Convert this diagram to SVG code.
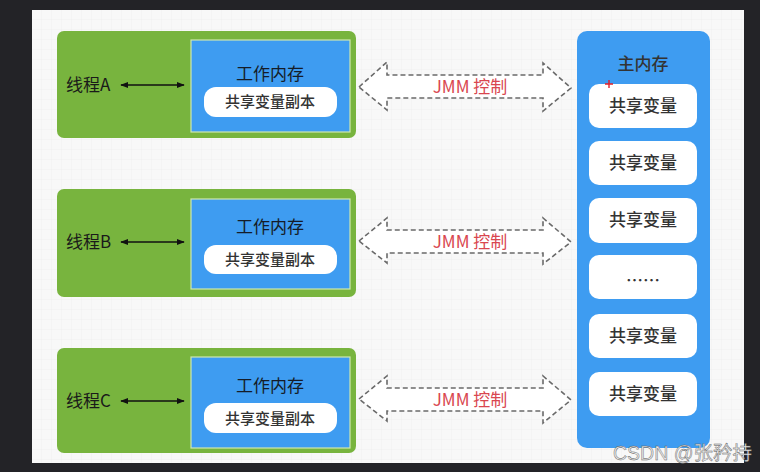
<svg xmlns="http://www.w3.org/2000/svg" width="760" height="472" viewBox="0 0 760 472">
  <defs>
    <pattern id="grid" width="10" height="10" patternUnits="userSpaceOnUse" x="32" y="10">
      <rect width="10" height="10" fill="#f8f8f8"/>
      <path d="M10,0 V10 M0,10 H10" stroke="#ebebeb" stroke-width="0.6" fill="none"/>
    </pattern>
    <marker id="ah" viewBox="0 0 10 10" refX="9" refY="5" markerWidth="8" markerHeight="8" orient="auto-start-reverse" markerUnits="userSpaceOnUse">
      <path d="M0,1 L10,5 L0,9 Z" fill="#111"/>
    </marker>
    <style>
      text { font-family: "Noto Sans CJK SC", "Noto Sans", sans-serif; }
      .thread { fill: #78b43e; }
      .work { fill: #3e9cf1; stroke: #cfe8b0; stroke-width: 1.2; }
      .pill { fill: #ffffff; }
      .tlabel { font-size: 17px; fill: #1a1a1a; }
      .wlabel { font-size: 17px; fill: #151c28; text-anchor: middle; }
      .plabel { font-size: 15px; fill: #333; text-anchor: middle; font-weight: 500; }
      .mlabel { font-size: 17px; fill: #333; text-anchor: middle; font-weight: 500; }
      .jmm { fill: #ffffff; stroke: #6a6a6a; stroke-width: 1.6; stroke-dasharray: 5 3; }
      .jlabel { font-size: 17px; fill: #d9464f; text-anchor: middle; }
      .link { stroke: #111; stroke-width: 1.6; fill: none; }
    </style>
  </defs>

  <rect x="0" y="0" width="760" height="472" fill="#232327"/>
  <rect x="32" y="10" width="712" height="453" fill="url(#grid)"/>

  <g id="thread-a">
    <rect class="thread" x="57" y="31" width="299" height="107" rx="7"/>
    <text class="tlabel" x="66" y="91">线程A</text>
  </g>
  <g id="work-a">
    <rect class="work" x="191" y="40" width="159" height="92"/>
    <text class="wlabel" x="270" y="80">工作内存</text>
    <rect class="pill" x="204" y="87" width="133" height="30" rx="12"/>
    <text class="plabel" x="270" y="107">共享变量副本</text>
  </g>

  <g id="thread-b">
    <rect class="thread" x="57" y="189" width="299" height="108" rx="7"/>
    <text class="tlabel" x="66" y="248">线程B</text>
  </g>
  <g id="work-b">
    <rect class="work" x="191" y="199" width="159" height="90"/>
    <text class="wlabel" x="270" y="233">工作内存</text>
    <rect class="pill" x="204" y="245" width="133" height="29" rx="12"/>
    <text class="plabel" x="270" y="265">共享变量副本</text>
  </g>

  <g id="thread-c">
    <rect class="thread" x="57" y="348" width="299" height="105" rx="7"/>
    <text class="tlabel" x="66" y="407">线程C</text>
  </g>
  <g id="work-c">
    <rect class="work" x="191" y="357" width="159" height="91"/>
    <text class="wlabel" x="270" y="392">工作内存</text>
    <rect class="pill" x="204" y="403" width="133" height="30" rx="12"/>
    <text class="plabel" x="270" y="424">共享变量副本</text>
  </g>

  <g id="main-memory">
    <rect x="577" y="31" width="133" height="417" rx="10" fill="#3e9cf1"/>
    <text class="mlabel" x="643" y="70">主内存</text>
    <rect class="pill" x="589" y="84" width="108" height="44" rx="10"/>
    <text class="mlabel" x="643" y="112">共享变量</text>
    <rect class="pill" x="589" y="141" width="108" height="44" rx="10"/>
    <text class="mlabel" x="643" y="169">共享变量</text>
    <rect class="pill" x="589" y="198" width="108" height="45" rx="10"/>
    <text class="mlabel" x="643" y="226">共享变量</text>
    <rect class="pill" x="589" y="255" width="108" height="44" rx="10"/>
    <text class="mlabel" x="643" y="287">……</text>
    <rect class="pill" x="589" y="314" width="108" height="44" rx="10"/>
    <text class="mlabel" x="643" y="342">共享变量</text>
    <rect class="pill" x="589" y="372" width="108" height="44" rx="10"/>
    <text class="mlabel" x="643" y="400">共享变量</text>
    <path d="M609,80 V88 M605,84 H613" stroke="#e0202a" stroke-width="1.4"/>
  </g>

  <g id="connectors">
    <line class="link" x1="121" y1="85" x2="184" y2="85" marker-start="url(#ah)" marker-end="url(#ah)"/>
    <line class="link" x1="121" y1="242" x2="184" y2="242" marker-start="url(#ah)" marker-end="url(#ah)"/>
    <line class="link" x1="121" y1="401" x2="184" y2="401" marker-start="url(#ah)" marker-end="url(#ah)"/>

    <path class="jmm" d="M359,87 L387,62 L387,75 L543,75 L543,63 L571,88 L543,111 L543,98 L387,98 L387,110 Z"/>
    <text class="jlabel" x="470" y="93">JMM 控制</text>
    <path class="jmm" d="M359,241 L387,218 L387,230 L543,230 L543,218 L571,242 L543,264 L543,253 L387,253 L387,263 Z"/>
    <text class="jlabel" x="470" y="248">JMM 控制</text>
    <path class="jmm" d="M359,399 L387,376 L387,388 L543,388 L543,376 L571,400 L543,423 L543,411 L387,411 L387,421 Z"/>
    <text class="jlabel" x="470" y="406">JMM 控制</text>
  </g>

  <text x="613" y="460" font-size="19.5" fill="#e6e6e6" stroke="#555" stroke-width="0.4" style="font-family: 'Liberation Sans', 'Noto Sans CJK SC', sans-serif;">CSDN @张矜持</text>
</svg>
